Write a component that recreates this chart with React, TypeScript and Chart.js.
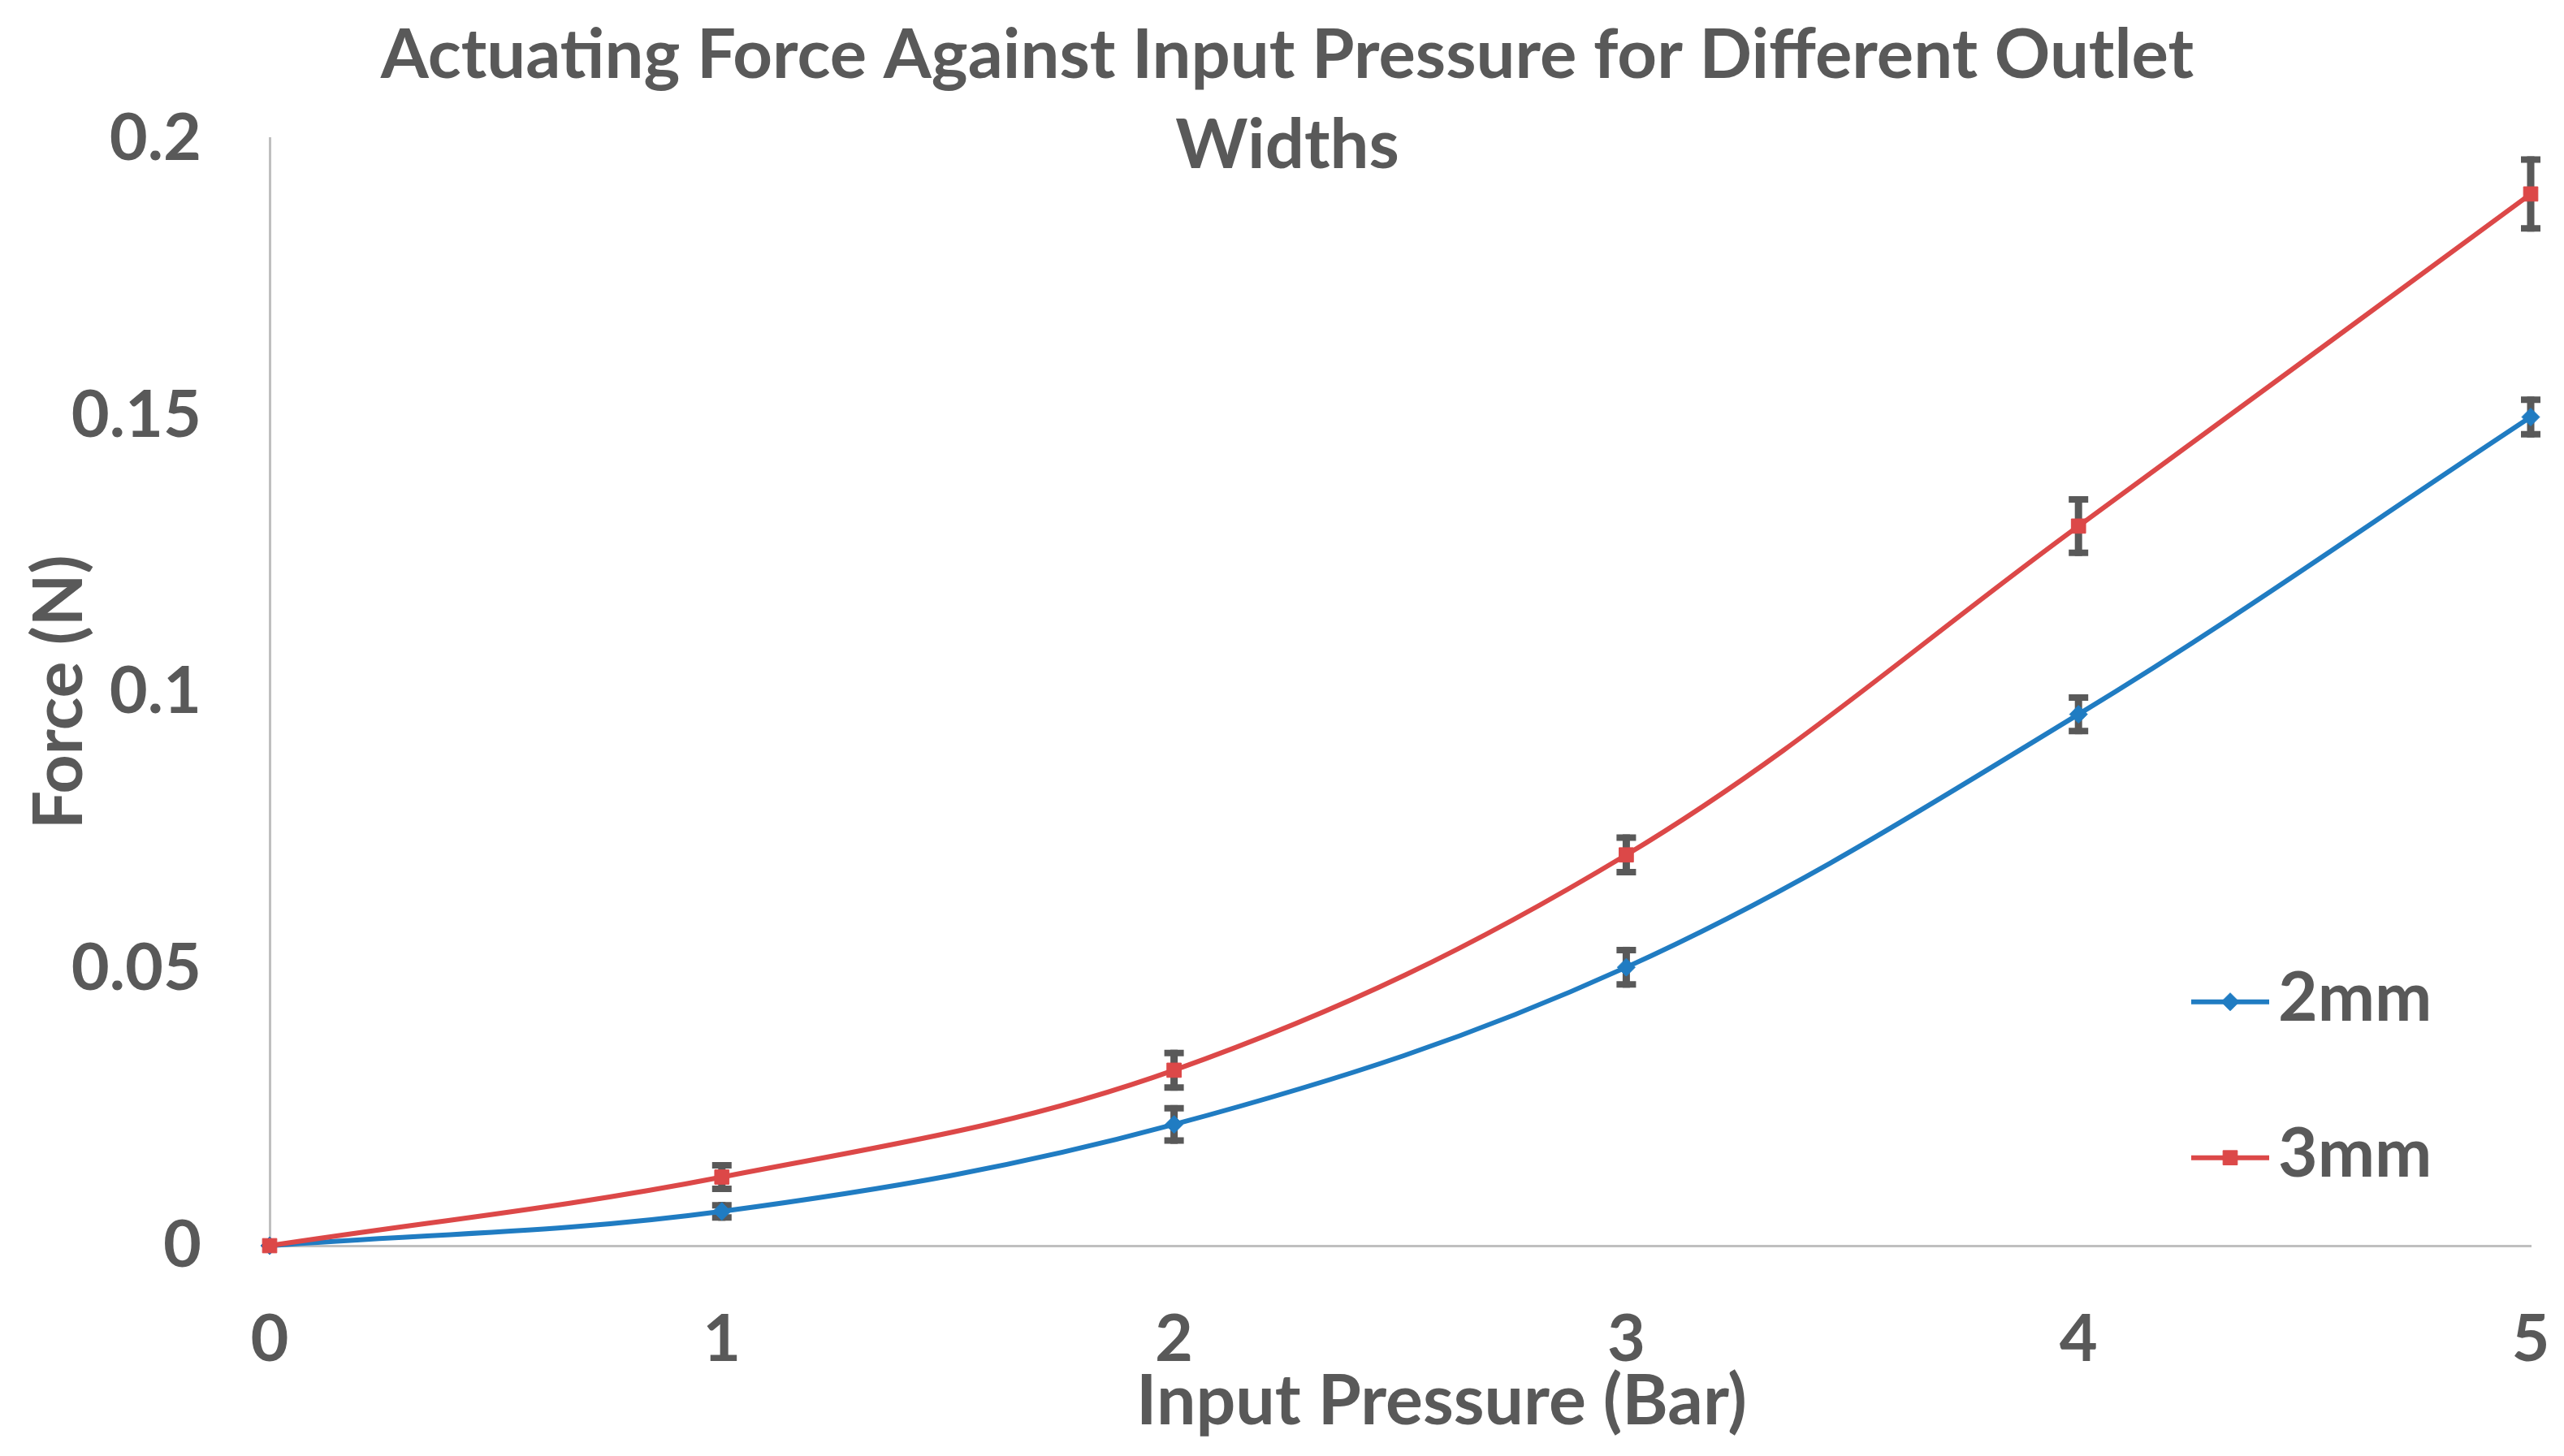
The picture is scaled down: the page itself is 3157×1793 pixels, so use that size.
import React, { useEffect, useRef } from "react";
import { Chart, registerables } from "chart.js";
import { drawPoint } from "chart.js/helpers";

Chart.register(...registerables);

// ---- data ----
const pressure = [0, 1, 2, 3, 4, 5];
const force2mm = [0, 0.0062, 0.0219, 0.0503, 0.096, 0.1497];
const force3mm = [0, 0.0124, 0.0317, 0.0706, 0.13, 0.19];
const err2mm = [0, 0.0017, 0.0035, 0.0037, 0.0036, 0.0037];
const err3mm = [0, 0.0027, 0.0037, 0.0037, 0.0054, 0.0068];
const seriesLabels = ["2mm", "3mm"];
const xTicks = [0, 1, 2, 3, 4, 5];
const yTicks = [0, 0.05, 0.1, 0.15, 0.2];
const titleLines = ["Actuating Force Against Input Pressure for Different Outlet", "Widths"];
const xTitle = "Input Pressure (Bar)";
const yTitle = "Force (N)";

const TEXT = "#595959";
const FONT = "Lato";
const BLUE = "#207CC2";
const RED = "#DC4848";

const errorBarPlugin = {
  id: "errorBars",
  beforeDatasetsDraw(chart: any) {
    const { ctx, scales } = chart;
    const x = scales.x;
    const y = scales.y;
    ctx.save();
    ctx.strokeStyle = TEXT;
    ctx.lineCap = "butt";
    chart.data.datasets.forEach((ds: any) => {
      const errs: number[] = ds.errors;
      if (!errs) return;
      ds.data.forEach((pt: any, i: number) => {
        const e = errs[i];
        if (!e) return;
        const px = x.getPixelForValue(pt.x);
        const top = y.getPixelForValue(pt.y + e);
        const bot = y.getPixelForValue(pt.y - e);
        ctx.lineWidth = 9;
        ctx.beginPath();
        ctx.moveTo(px, top);
        ctx.lineTo(px, bot);
        ctx.stroke();
        ctx.lineWidth = 8;
        ctx.beginPath();
        ctx.moveTo(px - 12, top + 4);
        ctx.lineTo(px + 12, top + 4);
        ctx.moveTo(px - 12, bot - 4);
        ctx.lineTo(px + 12, bot - 4);
        ctx.stroke();
      });
    });
    ctx.restore();
  },
};

const sideLegendPlugin = {
  id: "sideLegend",
  afterDraw(chart: any) {
    const { ctx, chartArea } = chart;
    const x0 = chartArea.right - 418;
    const ordered = [...chart.data.datasets].sort((a: any, b: any) => a.legendIndex - b.legendIndex);
    ordered.forEach((ds: any, i: number) => {
      const yy = chartArea.top + 1063 + i * 192;
      ctx.save();
      ctx.strokeStyle = ds.borderColor;
      ctx.lineWidth = 6;
      ctx.beginPath();
      ctx.moveTo(x0, yy);
      ctx.lineTo(x0 + 96, yy);
      ctx.stroke();
      ctx.fillStyle = ds.pointBackgroundColor;
      ctx.strokeStyle = ds.pointBorderColor;
      ctx.lineWidth = 1;
      drawPoint(ctx, { pointStyle: ds.pointStyle, radius: ds.pointRadius, rotation: 0, borderWidth: 1 }, x0 + 48, yy);
      ctx.fillStyle = TEXT;
      ctx.font = `bold 84px ${FONT}`;
      ctx.textAlign = "left";
      ctx.textBaseline = "middle";
      ctx.fillText(ds.label, x0 + 107, yy - 4);
      ctx.restore();
    });
  },
};

const xTitlePlugin = {
  id: "xTitleOffset",
  afterDraw(chart: any) {
    const { ctx, chartArea } = chart;
    ctx.save();
    ctx.fillStyle = TEXT;
    ctx.font = `bold 86px ${FONT}`;
    ctx.textAlign = "center";
    ctx.textBaseline = "middle";
    ctx.fillText(xTitle, (chartArea.left + chartArea.right) / 2 + 51, chartArea.bottom + 192);
    ctx.restore();
  },
};

export default function App() {
  const canvasRef = useRef<HTMLCanvasElement | null>(null);

  useEffect(() => {
    if (!canvasRef.current) return;
    const toPts = (ys: number[]) => pressure.map((p, i) => ({ x: p, y: ys[i] }));
    const chart = new Chart(canvasRef.current, {
      type: "line",
      data: {
        datasets: [
          {
            label: seriesLabels[0],
            data: toPts(force2mm),
            errors: err2mm,
            legendIndex: 0,
            borderColor: BLUE,
            backgroundColor: BLUE,
            pointBackgroundColor: BLUE,
            pointBorderColor: BLUE,
            pointStyle: "rectRot",
            pointRadius: 11,
            pointBorderWidth: 1,
            borderWidth: 6,
            tension: 0.36,
            fill: false,
            clip: false,
            order: 1,
          } as any,
          {
            label: seriesLabels[1],
            data: toPts(force3mm),
            errors: err3mm,
            legendIndex: 1,
            borderColor: RED,
            backgroundColor: RED,
            pointBackgroundColor: RED,
            pointBorderColor: RED,
            pointStyle: "rect",
            pointRadius: 12.5,
            pointBorderWidth: 1,
            borderWidth: 6,
            tension: 0.36,
            fill: false,
            clip: false,
            order: 0,
          } as any,
        ],
      },
      options: {
        animation: false,
        responsive: true,
        maintainAspectRatio: false,
        layout: { padding: { left: 54, right: 41, top: 0, bottom: 0 } },
        plugins: {
          legend: { display: false },
          tooltip: { enabled: false },
          title: {
            display: true,
            text: titleLines,
            color: TEXT,
            font: { family: FONT, size: 85, weight: "bold", lineHeight: 1.31 },
            padding: { top: 13, bottom: -65 },
          },
        },
        scales: {
          x: {
            type: "linear",
            min: 0,
            max: 5,
            afterBuildTicks: (s: any) => {
              s.ticks = xTicks.map((v) => ({ value: v }));
            },
            afterFit: (s: any) => {
              s.height = 259;
              s.paddingLeft = 0;
              s.paddingRight = 0;
            },
            grid: { display: false, drawTicks: false },
            border: { display: true, color: "#BFBFBF", width: 3 },
            ticks: {
              color: TEXT,
              font: { family: FONT, size: 81, weight: "bold" },
              padding: 67,
              maxRotation: 0,
              callback: (v: any) => String(v),
            },
            title: { display: false },
          },
          y: {
            type: "linear",
            min: 0,
            max: 0.2,
            afterBuildTicks: (s: any) => {
              s.ticks = yTicks.map((v) => ({ value: v }));
            },
            afterFit: (s: any) => {
              s.width = 278;
            },
            grid: { display: false, drawTicks: false },
            border: { display: true, color: "#BFBFBF", width: 3 },
            ticks: {
              color: TEXT,
              font: { family: FONT, size: 81, weight: "bold" },
              padding: 84,
              callback: (v: any) => String(+Number(v).toFixed(2)),
            },
            title: {
              display: true,
              text: yTitle,
              color: TEXT,
              font: { family: FONT, size: 84, weight: "bold", lineHeight: 1.2 },
              padding: { top: -30, bottom: 0 },
            },
          },
        },
      } as any,
      plugins: [errorBarPlugin, sideLegendPlugin, xTitlePlugin],
    });
    return () => chart.destroy();
  }, []);

  return (
    <div style={{ position: "fixed", left: 0, top: 0, width: "3157px", height: "1793px", background: "#fff" }}>
      <canvas ref={canvasRef} />
    </div>
  );
}
